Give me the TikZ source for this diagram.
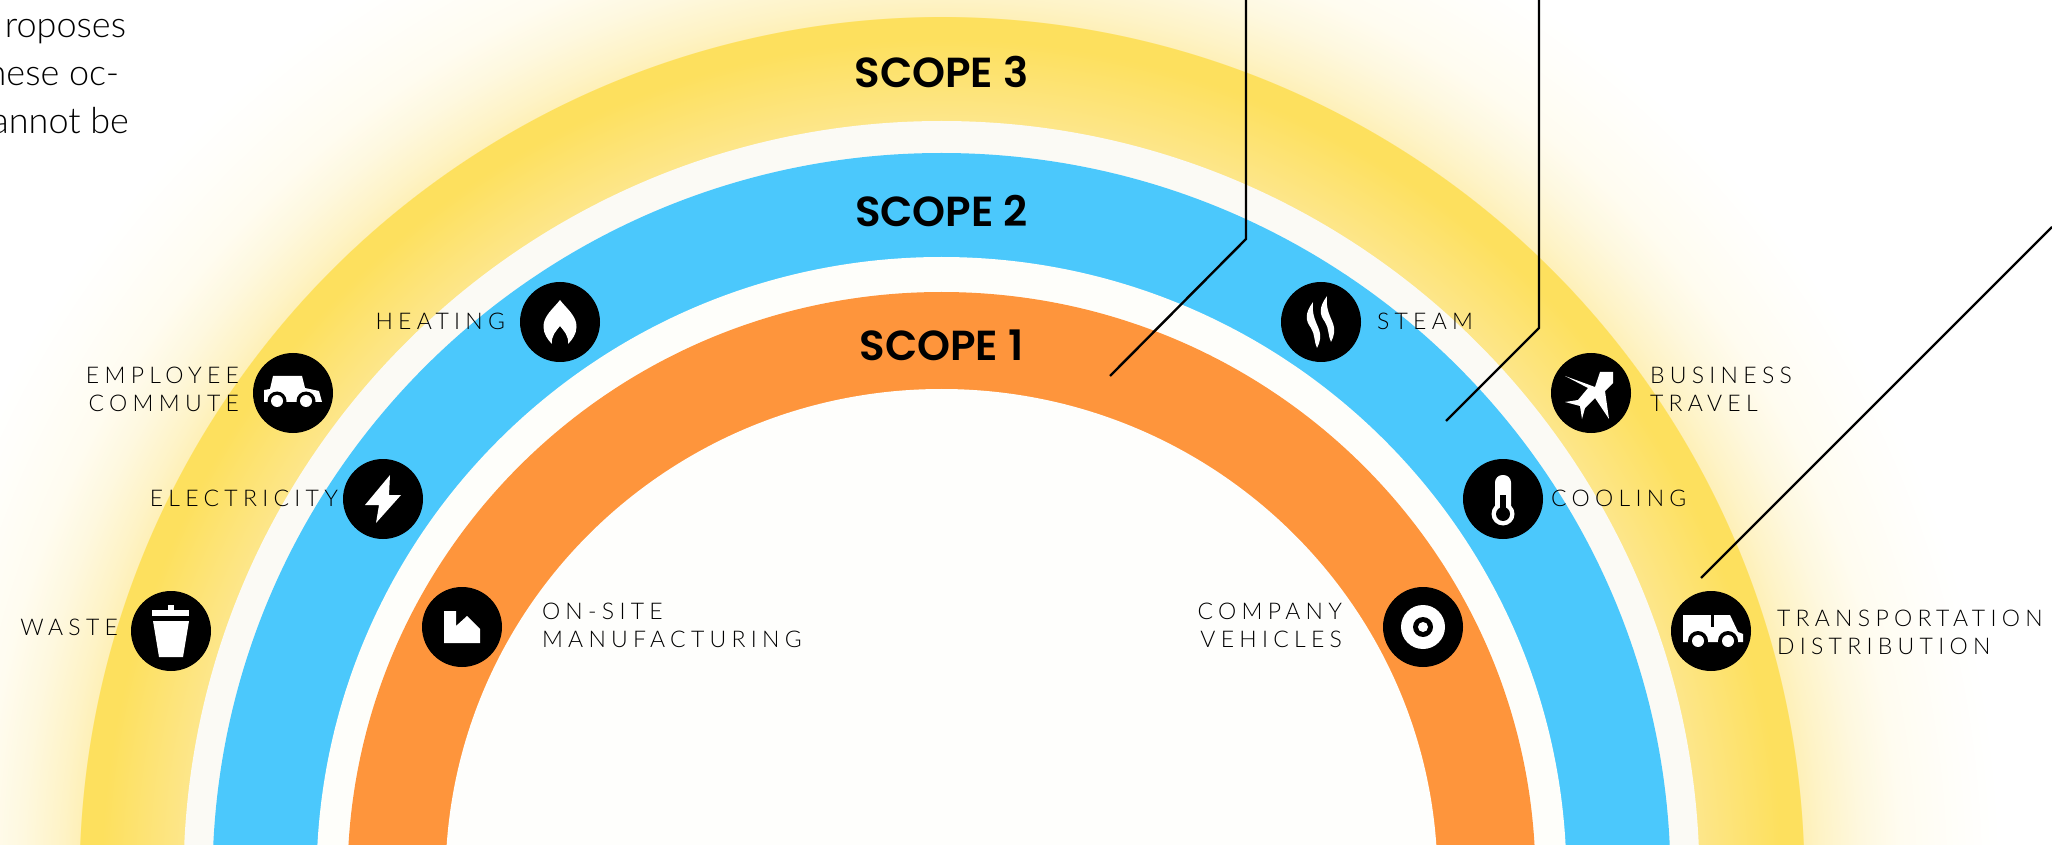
\documentclass[tikz,border=0pt]{standalone}
\usepackage{fontspec}
\setmainfont{Lato}
\newfontfamily\lab[LetterSpace=23]{Lato Light}
\newfontfamily\bodyf{Lato Light}
\newfontfamily\scopef{Poppins SemiBold}
\definecolor{yelout}{HTML}{FDE05E}
\definecolor{yelin}{HTML}{FDE68A}
\definecolor{gapA}{HTML}{FBFAF5}
\definecolor{gapB}{HTML}{FEFEFA}
\definecolor{skyb}{HTML}{4BC8FC}
\definecolor{orng}{HTML}{FE953C}
\definecolor{glowA}{HTML}{FEF0B8}
\definecolor{glowB}{HTML}{FEF3C6}
\definecolor{glowC}{HTML}{FEF8DF}
\definecolor{glowD}{HTML}{FFFCF0}
\definecolor{glowE}{HTML}{FFFEFA}
\definecolor{innerw}{HTML}{FEFEFC}
\pgfdeclareradialshading{archglow}{\pgfpoint{0bp}{0bp}}{%
 color(0bp)=(yelin);color(17.88bp)=(yelin);color(19.81bp)=(yelout);color(20.33bp)=(yelout);
 color(20.34bp)=(glowA);color(20.75bp)=(glowB);color(21.7bp)=(glowC);color(22.64bp)=(glowD);
 color(24.06bp)=(glowE);color(25bp)=(white);color(50bp)=(white)}
\tikzset{
 x=0.5pt,y=-0.5pt,
 iconc/.style={circle,fill=black,draw=none,minimum size=40pt,inner sep=0pt,outer sep=0pt},
 lbl/.style={inner sep=0pt,outer sep=0pt,text=black,font=\fontsize{11.5}{14}\selectfont\lab},
 lblR/.style={lbl,anchor=base east},
 lblL/.style={lbl,anchor=base west},
 scopelbl/.style={inner sep=0pt,outer sep=0pt,anchor=base,font=\fontsize{21}{25}\selectfont\scopef},
 para/.style={inner sep=0pt,outer sep=0pt,anchor=base east,text=black,font=\fontsize{18}{24}\selectfont\bodyf},
 leader/.style={draw=black,line width=1.2pt,line join=miter},
 ico/.style={fill=white,draw=none},
 icb/.style={fill=black,draw=none},
}
\begin{document}
\begin{tikzpicture}
\useasboundingbox (0,0) rectangle (2052,845);
\clip (0,0) rectangle (2052,845);
\coordinate (cc) at (941.5,879);
% arcs
\shade[shading=archglow] (cc) circle (1060);
\fill[gapA] (cc) circle (758);
\fill[skyb] (cc) ellipse [x radius=729,y radius=726];
\fill[gapB] (cc) ellipse [x radius=625,y radius=622];
\fill[orng] (cc) ellipse [x radius=594,y radius=587];
\fill[innerw] (cc) ellipse [x radius=496,y radius=490];
% scope labels
\node[scopelbl] (s3) at (941.5,88) {SCOPE 3};
\node[scopelbl] (s2) at (941.5,227) {SCOPE 2};
\node[scopelbl] (s1) at (941.5,360.5) {SCOPE 1};
% paragraph fragment
\node[para] (p1) at (126,38) {roposes};
\node[para] (p2) at (119,86) {hese oc-};
\node[para] (p3) at (129,134) {annot be};
% leaders
\coordinate (a0) at (1246,0);
\coordinate (a1) at (1246,239);
\coordinate (a2) at (1110,376);
\coordinate (b0) at (1539,0);
\coordinate (b1) at (1539,328);
\coordinate (b2) at (1446,421);
\coordinate (c0) at (2052,227);
\coordinate (c1) at (1701,578);
\draw[leader] (a0) -- (a1) -- (a2);
\draw[leader] (b0) -- (b1) -- (b2);
\draw[leader] (c0) -- (c1);
% icon discs
\node[iconc] (heat) at (560,322) {};
\node[iconc] (car) at (293,393) {};
\node[iconc] (elec) at (383,499) {};
\node[iconc] (waste) at (171,631) {};
\node[iconc] (fact) at (462,627) {};
\node[iconc] (steam) at (1321,322) {};
\node[iconc] (plane) at (1591,393) {};
\node[iconc] (cool) at (1503,499) {};
\node[iconc] (truck) at (1711,631) {};
\node[iconc] (comp) at (1423,627) {};
% flame
\begin{scope}[shift={(heat)}]
\fill[ico] (0,-22) .. controls (6,-14) and (17,-6) .. (16.5,5) .. controls (16.5,12) and (12,18) .. (8,22) .. controls (9,14) and (4,9) .. (0,4) .. controls (-4,9) and (-9,14) .. (-8,22) .. controls (-12,18) and (-16.5,12) .. (-16.5,5) .. controls (-17,-6) and (-6,-14) .. (0,-22) -- cycle;
\end{scope}
% car
\begin{scope}[shift={(car)}]
\fill[ico] (-29,9) -- (-29,-3) -- (-23,-4) -- (-20,-17) -- (9,-17) -- (12,-5) -- (26,-2) -- (29,9) -- cycle;
\fill[icb] (-16,8) circle (9.5); \fill[icb] (13,8) circle (9.5);
\fill[ico] (-16,8) circle (6); \fill[ico] (13,8) circle (6);
\end{scope}
% bolt
\begin{scope}[shift={(elec)}]
\fill[ico] (7,-24) -- (-18,6) -- (-4,6) -- (-7,24) -- (18,-4) -- (6,-4) -- cycle;
\end{scope}
% waste
\begin{scope}[shift={(waste)}]
\fill[ico] (-3,-26) rectangle (3,-21);
\fill[ico] (-19,-21) rectangle (18,-15);
\fill[ico] (-18,-10) -- (18,-10) -- (12,26) -- (-12,26) -- cycle;
\end{scope}
% factory
\begin{scope}[shift={(fact)}]
\fill[ico] (-18,-16) -- (-6,-16) -- (-6,-1) -- (5,-11) -- (18,2) -- (18,16) -- (-18,16) -- cycle;
\end{scope}
% steam
\begin{scope}[shift={(steam)}]
\fill[ico] (-8,-20) .. controls (-16,-9) and (-16,-2) .. (-10,6) .. controls (-6,12) and (-7,20) .. (-4,26) .. controls (-1,20) and (1,14) .. (-3,5) .. controls (-7,-4) and (-9,-10) .. (-8,-20) -- cycle;
\fill[ico] (6,-26) .. controls (-2,-15) and (-2,-8) .. (4,0) .. controls (8,6) and (7,14) .. (10,20) .. controls (13,14) and (15,8) .. (11,-1) .. controls (7,-10) and (5,-16) .. (6,-26) -- cycle;
\end{scope}
% plane
\begin{scope}[shift={(plane)}]
\fill[ico] (-26,-17) -- (4,-6) -- (9,-21) -- (22,-21) -- (22,-10) -- (14,-2) -- (18,26) -- (4,5) -- (-6,15) -- (-9,26) -- (-11,13) -- (-26,9) -- (-13,7) -- (-3,-5) -- cycle;
\end{scope}
% thermometer
\begin{scope}[shift={(cool)}]
\fill[ico,rounded corners=3.75pt] (-8,-24) rectangle (8,16);
\fill[ico] (0,15) circle (11.5);
\fill[icb] (-3,-4) rectangle (3,12);
\fill[icb] (0,15) circle (7);
\end{scope}
% target
\begin{scope}[shift={(comp)}]
\fill[ico] (0,0) circle (22);
\fill[icb] (0,0) circle (10);
\fill[ico] (0,0) circle (5);
\end{scope}
% truck
\begin{scope}[shift={(truck)}]
\fill[ico] (-28,-16) -- (19,-16) -- (27,1) -- (32,3) -- (32,11) -- (-28,11) -- cycle;
\fill[icb] (0,-16) rectangle (3,-4);
\fill[icb] (-13,10) circle (10); \fill[icb] (17,10) circle (10);
\fill[ico] (-13,10) circle (6); \fill[ico] (17,10) circle (6);
\end{scope}
% labels
\node[lblR] (l1) at (505,330) {HEATING};
\node[lblR] (l2a) at (239,384) {EMPLOYEE};
\node[lblR] (l2b) at (239,412) {COMMUTE};
\node[lblR] (l3) at (338,506) {ELECTRICITY};
\node[lblR] (l4) at (118,635) {WASTE};
\node[lblL] (l5a) at (542,619) {ON-SITE};
\node[lblL] (l5b) at (542,647) {MANUFACTURING};
\node[lblL] (l6) at (1377,330) {STEAM};
\node[lblL] (l7a) at (1650,384) {BUSINESS};
\node[lblL] (l7b) at (1650,412) {TRAVEL};
\node[lblL] (l8) at (1551,506) {COOLING};
\node[lblL] (l9a) at (1777,626) {TRANSPORTATION};
\node[lblL] (l9b) at (1777,654) {DISTRIBUTION};
\node[lblR] (l10a) at (1342,619) {COMPANY};
\node[lblR] (l10b) at (1342,647) {VEHICLES};
\end{tikzpicture}
\end{document}
